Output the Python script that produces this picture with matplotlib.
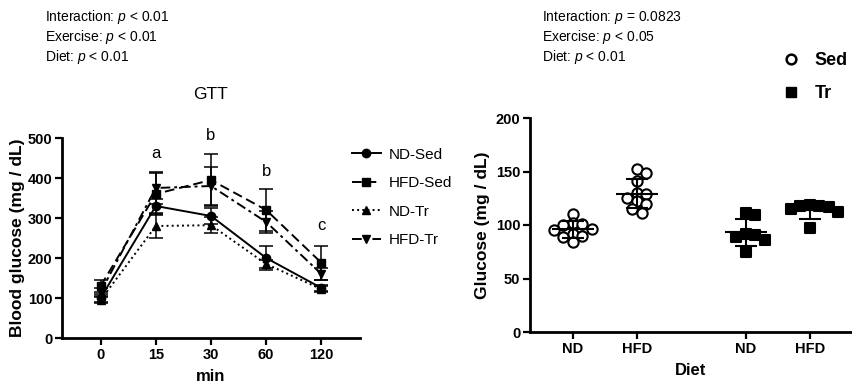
import numpy as np
import matplotlib.pyplot as plt
from matplotlib.lines import Line2D

# ---- GTT data (left panel) ----
time_labels = ['0', '15', '30', '60', '120']
gtt_groups = ['ND-Sed', 'HFD-Sed', 'ND-Tr', 'HFD-Tr']
nd_sed = [100, 330, 305, 200, 125]
hfd_sed = [130, 360, 395, 320, 188]
nd_tr = [95, 280, 282, 185, 122]
hfd_tr = [115, 375, 380, 290, 160]
nd_sed_err = [10, 18, 20, 30, 8]
hfd_sed_err = [15, 53, 65, 53, 42]
nd_tr_err = [8, 30, 20, 10, 8]
hfd_tr_err = [10, 40, 48, 28, 15]
sig_letters = ['a', 'b', 'b', 'c']
sig_pos = [1, 2, 3, 4]
sig_y = [462, 507, 415, 282]

# ---- fasting glucose data (right panel) ----
diet_labels = ['ND', 'HFD', 'ND', 'HFD']
nd_sed_pts = [110, 102, 101, 100, 96, 95, 92, 90, 89, 84]
hfd_sed_pts = [152, 149, 141, 130, 129, 125, 122, 120, 115, 111]
nd_tr_pts = [111, 109, 92, 91, 89, 86, 75]
hfd_tr_pts = [119, 118, 118, 117, 115, 112, 97]

stats_left = ['Interaction: $p$ < 0.01', 'Exercise: $p$ < 0.01', 'Diet: $p$ < 0.01']
stats_right = ['Interaction: $p$ = 0.0823', 'Exercise: $p$ < 0.05', 'Diet: $p$ < 0.01']

plt.rcParams['font.family'] = ['Liberation Sans', 'DejaVu Sans']
plt.rcParams['mathtext.fontset'] = 'custom'
plt.rcParams['mathtext.it'] = 'Liberation Sans:italic'
plt.rcParams['mathtext.rm'] = 'Liberation Sans'

fig = plt.figure(figsize=(8.52, 3.85), dpi=100)
W, H = 852, 385


def style_axes(ax):
    for s in ['top', 'right']:
        ax.spines[s].set_visible(False)
    for s in ['left', 'bottom']:
        ax.spines[s].set_linewidth(2)
    ax.tick_params(width=1.6, length=5, labelsize=10.5, pad=2)
    for lab in ax.get_xticklabels() + ax.get_yticklabels():
        lab.set_fontweight('bold')


# left panel
ax1 = fig.add_axes([62 / W, 1 - 338 / H, (360 - 62) / W, 200 / H])
x = np.arange(len(time_labels))
styles = [('o', '-', nd_sed, nd_sed_err),
          ('s', (0, (5, 2.5)), hfd_sed, hfd_sed_err),
          ('^', ':', nd_tr, nd_tr_err),
          ('v', (0, (5, 2, 1.5, 2)), hfd_tr, hfd_tr_err)]
handles = []
for (m, ls, vals, err), name in zip(styles, gtt_groups):
    ax1.errorbar(x, vals, yerr=err, color='black', marker=m, markersize=6,
                 linestyle=ls, linewidth=1.4, capsize=5, elinewidth=1.1,
                 capthick=1.1)
    handles.append(Line2D([], [], color='black', marker=m, markersize=6,
                          linestyle=ls, linewidth=1.4, label=name))
for p, t, yv in zip(sig_pos, sig_letters, sig_y):
    ax1.text(p, yv, t, ha='center', va='center', fontsize=12)
ax1.set_xlim(-0.7, 4.7)
ax1.set_ylim(0, 500)
ax1.set_xticks(x)
ax1.set_xticklabels(time_labels)
ax1.set_yticks([0, 100, 200, 300, 400, 500])
ax1.set_xlabel('min', fontsize=12, fontweight='bold', labelpad=5)
ax1.set_ylabel('Blood glucose (mg / dL)', fontsize=12.5, fontweight='bold', labelpad=2)
ax1.set_title('GTT', fontsize=12.5, pad=28)
style_axes(ax1)
fig.legend(handles=handles, loc='upper left', bbox_to_anchor=(338 / W, 1 - 134 / H),
           frameon=False, fontsize=11, handlelength=1.9, labelspacing=0.95,
           handletextpad=0.5)

# right panel
ax2 = fig.add_axes([530 / W, 1 - 332 / H, (W - 530) / W, 214 / H])
positions = [1, 2, 3.7, 4.7]
ax2.set_xlim(0.33, 5.36)
ax2.set_ylim(0, 200)
ppx = (W - 530) / (5.36 - 0.33)
ppy = 214 / 200.0


def swarm(vals, diam=9.5):
    # place each point at the smallest horizontal offset that avoids overlap
    placed = []
    offs = []
    gap = diam * 0.9
    for v in vals:
        vy = v * ppy
        k = 0
        while True:
            cands = [0] if k == 0 else [k * diam / 2, -k * diam / 2]
            ok = None
            for c in cands:
                if all((c - px) ** 2 + (vy - py) ** 2 >= gap ** 2 for px, py in placed):
                    ok = c
                    break
            if ok is not None:
                placed.append((ok, vy))
                offs.append(ok / ppx)
                break
            k += 1
    return np.array(offs)


groups = [(nd_sed_pts, 'o', 'white'), (hfd_sed_pts, 'o', 'white'),
          (nd_tr_pts, 's', 'black'), (hfd_tr_pts, 's', 'black')]
for pos, (pts, m, fc) in zip(positions, groups):
    pts = np.array(pts, dtype=float)
    offs = swarm(pts)
    ax2.scatter(pos + offs, pts, marker=m, s=55, facecolor=fc, edgecolor='black',
                linewidth=1.5, zorder=3)
    mean, sd = pts.mean(), pts.std(ddof=1)
    ax2.hlines(mean, pos - 0.33, pos + 0.33, color='black', linewidth=1.5, zorder=4)
    ax2.vlines(pos, mean - sd, mean + sd, color='black', linewidth=1.5, zorder=4)
    ax2.hlines([mean - sd, mean + sd], pos - 0.17, pos + 0.17, color='black',
               linewidth=1.5, zorder=4)
ax2.set_xticks(positions)
ax2.set_xticklabels(diet_labels)
ax2.set_yticks([0, 50, 100, 150, 200])
ax2.set_xlabel('Diet', fontsize=12, fontweight='bold', labelpad=5)
ax2.set_ylabel('Glucose (mg / dL)', fontsize=12.5, fontweight='bold', labelpad=4)
style_axes(ax2)

leg_handles = [Line2D([], [], marker='o', color='black', markerfacecolor='white',
                      markeredgewidth=1.8, linestyle='none', markersize=7, label='Sed'),
               Line2D([], [], marker='s', color='black', linestyle='none',
                      markersize=7, label='Tr')]
leg2 = fig.legend(handles=leg_handles, loc='upper left', bbox_to_anchor=(762 / W, 1 - 36 / H),
                  frameon=False, fontsize=13, handletextpad=0.6, labelspacing=0.9,
                  handlelength=1.4)
for t in leg2.get_texts():
    t.set_fontweight('bold')

# ANOVA text
for i, (a, b) in enumerate(zip(stats_left, stats_right)):
    yy = 1 - (17 + i * 20) / H
    fig.text(45 / W, yy, a, fontsize=10, va='center', ha='left')
    fig.text(542 / W, yy, b, fontsize=10, va='center', ha='left')

fig.savefig('out.png', dpi=100)
